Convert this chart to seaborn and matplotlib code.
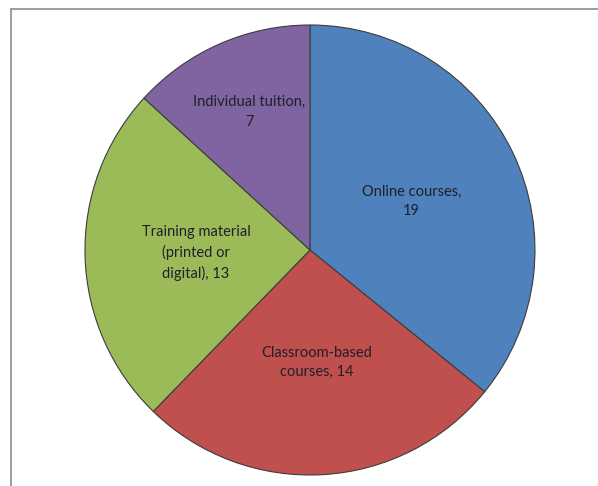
import numpy as np
import matplotlib
matplotlib.use("Agg")
import matplotlib.pyplot as plt
from matplotlib.lines import Line2D
import seaborn as sns

# Preferred ways of learning
categories = ["Online courses", "Classroom-based courses",
              "Training material (printed or digital)", "Individual tuition"]
values = [19, 14, 13, 7]
label_texts = ["Online courses,\n19", "Classroom-based\ncourses, 14",
               "Training material\n(printed or\ndigital), 13", "Individual tuition,\n7"]
colors = ["#4F81BD", "#C0504D", "#9BBB59", "#8064A2"]
label_radius = [0.5, 0.5, 0.507, 0.67]

sns.set_theme(style="white")
plt.rcParams["font.family"] = ["Lato", "DejaVu Sans"]

fig = plt.figure(figsize=(5.98, 4.86), dpi=100)
ax = fig.add_axes([0.1421, 0.0226, 0.7525, 0.926])

wedges, _ = ax.pie(values, colors=colors, startangle=90, counterclock=False,
                   radius=1.0,
                   wedgeprops=dict(edgecolor="#3c3c3c", linewidth=0.8))

for w, txt, r in zip(wedges, label_texts, label_radius):
    mid = np.deg2rad((w.theta1 + w.theta2) / 2)
    ax.text(r * np.cos(mid), r * np.sin(mid), txt, ha="center", va="center",
            fontsize=10.5, color="#1f1f2a", linespacing=1.5)

ax.set_xlim(-1, 1)
ax.set_ylim(-1, 1)
ax.set_aspect("equal")
ax.axis("off")

# Chart-area frame (left and top edges)
W, H = 598, 486
x0, y0 = 10.5 / W, 1 - 9.5 / H
fig.add_artist(Line2D([x0, x0], [y0, 0], transform=fig.transFigure, color="#8c8c8c", linewidth=1.2))
fig.add_artist(Line2D([x0, 1], [y0, y0], transform=fig.transFigure, color="#8c8c8c", linewidth=1.2))

fig.savefig("out.png", dpi=100, facecolor="white")
